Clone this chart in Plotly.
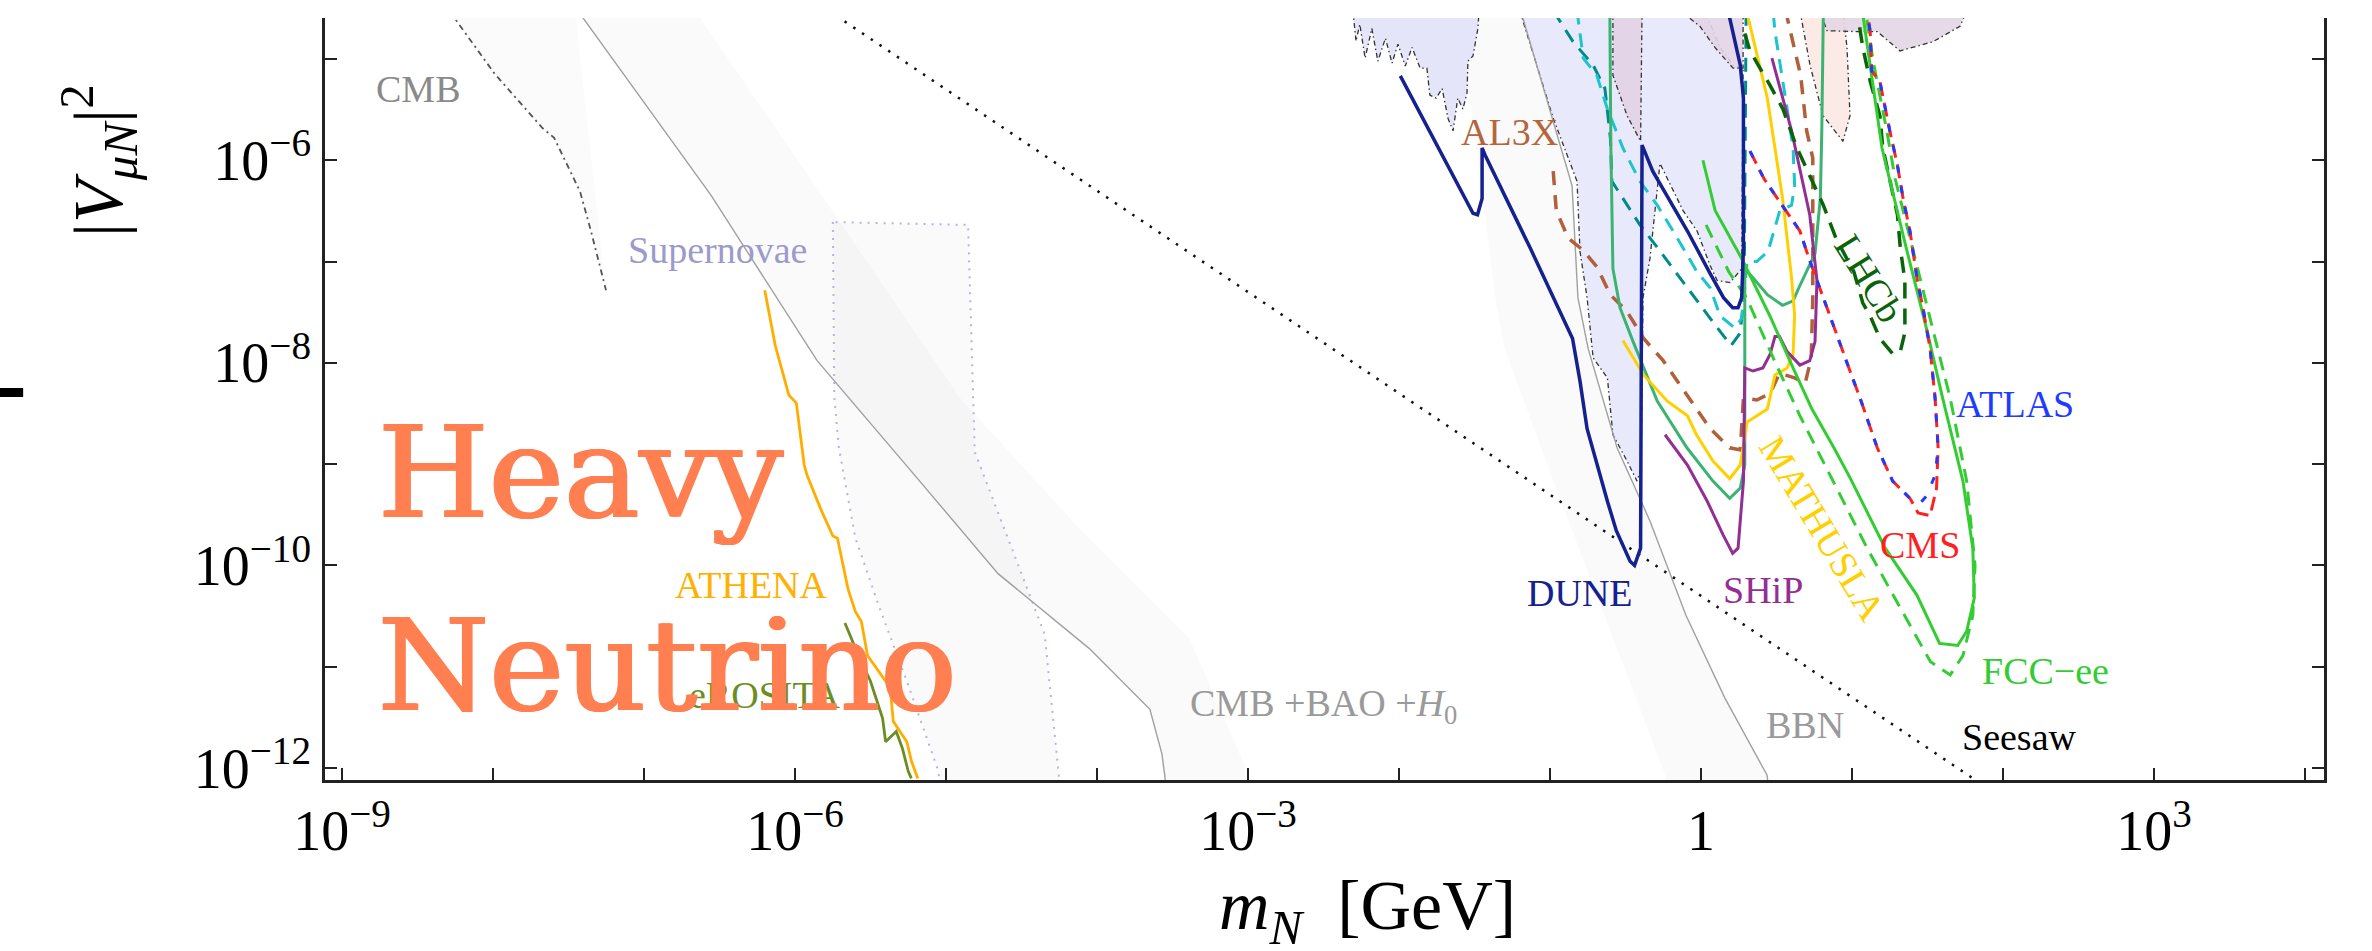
import plotly.graph_objects as go

# ---------------- data (m_N in GeV, |V_muN|^2) ----------------
seesaw_m = [1.0e-7, 1.0e3]
seesaw_v = [5.0e-4, 5.0e-14]

cmb_m = [5.4e-9, 5.7e-9, 1.02e-8, 2.11e-8, 2.54e-8, 3.77e-8, 4.45e-8, 5.6e-8, 4.4e-8, 3.5e-8]
cmb_v = [3.0e-5, 2.4e-5, 7.2e-6, 2.1e-6, 1.66e-6, 4.9e-7, 2.0e-7, 5.2e-8, 1.32e-6, 3.0e-5]
cmb_line_n = 8

bao_line_m = [3.7e-8, 3.9e-8, 2.78e-7, 1.40e-6, 5.6e-6, 2.21e-5, 8.9e-5, 2.24e-4, 2.69e-4, 2.82e-4, 2.86e-4]
bao_line_v = [3.0e-5, 2.6e-5, 4.5e-7, 1.05e-8, 9.3e-10, 8.3e-11, 1.51e-11, 3.8e-12, 1.38e-12, 8.1e-13, 5.0e-13]
bao_edge_m = [1.04e-3, 1.03e-3, 4.1e-4, 7.7e-5, 1.24e-5, 1.76e-6, 2.18e-7]
bao_edge_v = [5.0e-13, 8.1e-13, 1.9e-11, 2.3e-10, 4.5e-9, 3.2e-7, 3.0e-5]

sn_m = [1.78e-6, 1.82e-6, 1.95e-6, 2.51e-6, 3.63e-6, 5.5e-6, 8.9e-6, 9.3e-6, 5.9e-5, 5.6e-5, 4.5e-5, 1.55e-5, 1.40e-5, 1.78e-6]
sn_v = [2.45e-7, 4.5e-9, 1.45e-9, 1.86e-10, 3.8e-11, 7.2e-12, 9.3e-13, 5.0e-13, 5.0e-13, 8.1e-13, 2.1e-11, 1.32e-9, 2.3e-7, 2.45e-7]

bbn_edge_m = [2.35e-2, 2.95e-2, 4.33e-2, 5.0e-2, 0.105, 0.228, 0.578, 0.60]
bbn_edge_v = [3.0e-5, 4.1e-6, 4.4e-8, 1.38e-8, 6.8e-10, 3.2e-11, 8.5e-13, 5.0e-13]
bbn_line_m = [6.4e-2, 0.140, 0.153, 0.179, 0.278, 0.459, 0.796, 1.44, 2.74, 2.85]
bbn_line_v = [3.0e-5, 5.6e-7, 4.4e-8, 1.38e-8, 1.45e-9, 2.75e-10, 3.2e-11, 4.9e-12, 8.5e-13, 5.0e-13]

reg1_m = [4.95e-3, 5.19e-3, 5.50e-3, 5.96e-3, 6.61e-3, 7.24e-3, 8.13e-3, 8.99e-3, 9.84e-3, 1.10e-2,
          1.22e-2, 1.38e-2, 1.53e-2, 1.60e-2, 1.76e-2, 1.93e-2, 2.11e-2, 2.28e-2, 2.45e-2, 2.65e-2,
          2.82e-2, 2.86e-2, 3.09e-2, 3.33e-2, 3.39e-2]
reg1_v = [3.0e-5, 1.5e-5, 2.2e-5, 1.02e-5, 2.0e-5, 9.5e-6, 1.6e-5, 9.1e-6, 1.4e-5, 8.5e-6,
          1.3e-5, 8.1e-6, 8.1e-6, 4.4e-6, 4.1e-6, 5.1e-6, 2.6e-6, 1.95e-6, 4.1e-6, 3.2e-6,
          4.6e-6, 9.5e-6, 1.07e-5, 2.0e-5, 3.0e-5]

reg2_m = [0.063, 0.105, 0.151, 0.158, 0.176, 0.193, 0.240, 0.261, 0.324, 0.377, 0.401, 0.413, 0.459,
          0.535, 0.759, 0.942, 1.15, 1.28, 1.56, 1.86, 1.90, 1.63, 1.34, 1.06]
reg2_v = [3.0e-5, 2.6e-6, 6.2e-7, 1.26e-7, 4.4e-8, 1.12e-8, 7.1e-9, 1.95e-9, 1.07e-9, 6.8e-10, 9.1e-10,
          4.4e-8, 1.07e-7, 9.3e-7, 3.2e-7, 2.0e-7, 9.1e-8, 6.5e-8, 6.2e-8, 8.5e-8, 8.1e-6, 8.7e-6, 1.29e-5, 3.0e-5]

reg3_m = [0.261, 0.261, 0.324, 0.398, 0.407]
reg3_v = [3.0e-5, 6.9e-6, 2.75e-6, 1.54e-6, 3.0e-5]
reg3b_m = [0.726, 0.984, 1.24, 1.63, 1.90, 1.90]
reg3b_v = [3.0e-5, 2.1e-5, 1.29e-5, 8.1e-6, 8.1e-6, 3.0e-5]
reg4_m = [4.52, 5.27, 6.43, 8.71, 9.70, 9.27, 8.71]
reg4_v = [3.0e-5, 8.7e-6, 2.75e-6, 1.54e-6, 2.75e-6, 1.29e-5, 3.0e-5]
reg5_m = [6.14, 6.82, 10.8, 14.7, 20.8, 34.4, 51.9, 57.8]
reg5_v = [3.0e-5, 1.9e-5, 1.86e-5, 1.86e-5, 1.2e-5, 1.48e-5, 2.1e-5, 3.0e-5]

athena_m = [6.3e-7, 7.4e-7, 9.1e-7, 1.02e-6, 1.15e-6, 1.20e-6, 1.48e-6, 1.78e-6, 1.91e-6, 2.24e-6,
            2.51e-6, 2.75e-6, 3.02e-6, 4.27e-6, 4.47e-6, 5.5e-6, 5.9e-6, 6.5e-6]
athena_v = [5.2e-8, 1.48e-8, 4.8e-9, 4.0e-9, 9.8e-10, 7.8e-10, 3.6e-10, 1.95e-10, 1.86e-10, 5.9e-11,
            3.5e-11, 2.8e-11, 1.29e-11, 6.2e-12, 2.9e-12, 1.82e-12, 1.17e-12, 7.9e-13]

erosita_m = [2.14e-6, 2.63e-6, 3.16e-6, 3.80e-6, 3.98e-6, 4.68e-6, 5.13e-6, 5.62e-6, 5.89e-6]
erosita_v = [2.7e-11, 1.29e-11, 7.2e-12, 3.1e-12, 1.82e-12, 2.3e-12, 1.58e-12, 9.3e-13, 7.9e-13]

dune_m = [1.02e-2, 3.09e-2, 3.31e-2, 3.55e-2, 3.55e-2, 3.72e-2, 7.41e-2, 0.105, 0.141, 0.158, 0.176,
          0.240, 0.275, 0.339, 0.363, 0.398, 0.407, 0.479, 0.813, 1.15, 1.41, 1.62, 1.76, 1.86, 1.91,
          1.91, 1.82, 1.51]
dune_v = [6.8e-6, 3.0e-7, 2.9e-7, 4.2e-7, 1.32e-6, 1.12e-6, 1.35e-7, 4.4e-8, 1.74e-8, 6.6e-9, 2.24e-9,
          4.3e-10, 2.2e-10, 1.1e-10, 1.0e-10, 1.48e-10, 1.41e-6, 7.8e-7, 2.0e-7, 7.6e-8, 4.4e-8, 3.5e-8,
          3.5e-8, 4.4e-8, 1.35e-7, 4.1e-6, 8.7e-6, 3.0e-5]

al3x_m = [0.105, 0.110, 0.132, 0.166, 0.204, 0.251, 0.324, 0.417, 0.562, 0.813, 1.15, 1.55, 1.82, 1.91,
          2.34, 2.88, 3.31, 4.17, 4.90, 5.37, 5.50, 5.50, 5.50, 5.01, 4.57, 3.63]
al3x_v = [7.8e-7, 3.2e-7, 1.7e-7, 1.29e-7, 8.9e-8, 4.7e-8, 3.2e-8, 1.74e-8, 1.05e-8, 4.8e-9, 2.24e-9,
          1.45e-9, 1.38e-9, 4.5e-9, 4.3e-9, 5.0e-9, 7.9e-9, 7.1e-9, 6.3e-9, 1.12e-8, 4.4e-8, 2.0e-7,
          1.05e-6, 1.95e-6, 6.9e-6, 3.0e-5]

mathusla_m = [0.304, 0.417, 0.596, 0.813, 0.933, 1.20, 1.55, 1.82, 2.02, 2.75, 3.09, 3.72, 4.07, 4.17,
              3.98, 3.47, 2.75, 2.0]
mathusla_v = [1.66e-8, 7.6e-9, 4.2e-9, 3.0e-9, 1.95e-9, 1.07e-9, 7.2e-10, 9.8e-10, 2.6e-9, 3.5e-9,
              7.6e-9, 8.9e-9, 1.2e-8, 2.95e-8, 6.9e-8, 4.2e-7, 4.1e-6, 3.0e-5]

ship_m = [0.578, 0.813, 1.10, 1.40, 1.62, 1.76, 1.91, 1.95, 2.21, 2.57, 2.86, 3.09, 3.31, 3.72, 4.52,
          5.25, 5.69, 5.86, 5.25, 3.98, 2.95]
ship_v = [1.95e-9, 9.8e-10, 4.3e-10, 2.0e-10, 1.32e-10, 1.48e-10, 6.8e-10, 8.9e-9, 8.3e-9, 8.9e-9,
          1.2e-8, 1.82e-8, 1.82e-8, 1.29e-8, 9.5e-9, 1.05e-8, 1.62e-8, 6.5e-8, 2.9e-7, 1.95e-6, 1.02e-5]

seagreen_m = [0.249, 0.253, 0.261, 0.291, 0.355, 0.513, 0.807, 1.20, 1.55, 1.82, 1.95, 1.95, 1.95, 2.21,
              2.75, 3.47, 4.07, 4.52, 5.13, 5.69, 6.17, 6.31, 6.46]
seagreen_v = [3.0e-5, 1.32e-6, 8.5e-8, 3.5e-8, 1.62e-8, 4.2e-9, 1.45e-9, 6.8e-10, 4.6e-10, 5.8e-10,
              9.8e-10, 7.1e-9, 8.5e-8, 6.9e-8, 4.7e-8, 3.7e-8, 4.1e-8, 5.8e-8, 8.5e-8, 1.2e-7, 4.2e-7,
              1.95e-6, 3.0e-5]

teal_m = [0.105, 0.142, 0.193, 0.231, 0.251, 0.257, 0.304, 0.394, 0.537, 0.807, 1.15, 1.58, 1.81, 1.93,
          1.95, 1.99, 1.99]
teal_v = [3.0e-5, 1.48e-5, 8.7e-6, 5.1e-6, 1.66e-6, 6.2e-7, 4.2e-7, 2.3e-7, 1.26e-7, 5.5e-8, 2.75e-8,
          1.48e-8, 1.95e-8, 4.4e-8, 4.2e-7, 4.1e-6, 3.0e-5]

cyan_m = [0.151, 0.166, 0.204, 0.240, 0.304, 0.394, 0.513, 0.653, 0.942, 1.15, 1.34, 1.68, 1.86, 2.02,
          2.34, 2.78, 3.33, 3.98, 4.17, 4.07, 3.72, 3.33, 3.09, 3.0]
cyan_v = [3.0e-5, 1.02e-5, 6.9e-6, 3.2e-6, 1.32e-6, 6.2e-7, 3.6e-7, 2.0e-7, 7.9e-8, 5.5e-8, 2.9e-8,
          2.2e-8, 2.75e-8, 1.0e-7, 1.0e-7, 1.26e-7, 3.2e-7, 3.6e-7, 5.6e-7, 1.32e-6, 3.2e-6, 8.7e-6,
          1.86e-5, 3.0e-5]

lhcb_m = [1.95, 2.11, 2.86, 3.49, 4.32, 5.25, 6.46, 7.83, 10.3, 11.8, 13.4, 15.3, 18.6, 20.9, 22.4, 22.4,
          20.9, 20.0, 16.0, 15.3, 13.2, 11.8, 10.8]
lhcb_v = [1.78e-5, 1.2e-5, 5.5e-6, 3.2e-6, 1.32e-6, 7.1e-7, 3.6e-7, 1.7e-7, 7.9e-8, 3.9e-8, 2.75e-8,
          1.74e-8, 1.23e-8, 1.29e-8, 2.0e-8, 6.5e-8, 1.35e-7, 2.9e-7, 1.32e-6, 2.75e-6, 6.0e-6, 1.29e-5, 3.0e-5]

atlas_m = [2.11, 2.61, 3.44, 4.52, 5.19, 6.31, 7.83, 9.70, 11.3, 14.7, 18.6, 24.2, 28.2, 31.4, 35.5, 37.2,
           35.5, 32.9, 29.5, 26.9, 24.2, 21.8, 20.0, 17.8, 16.0, 15.3, 13.5, 13.2, 12.6]
atlas_v = [1.23e-6, 6.6e-7, 3.6e-7, 2.0e-7, 1.07e-7, 4.9e-8, 2.0e-8, 8.3e-9, 4.5e-9, 1.45e-9, 6.8e-10,
           4.6e-10, 4.1e-10, 4.9e-10, 7.8e-10, 1.45e-9, 4.5e-9, 1.38e-8, 3.5e-8, 6.9e-8, 2.0e-7, 4.2e-7,
           8.9e-7, 1.95e-6, 4.1e-6, 6.0e-6, 7.6e-6, 1.86e-5, 3.0e-5]

cms_m = [2.11, 2.61, 3.44, 4.52, 5.19, 6.31, 7.83, 9.70, 11.3, 14.7, 18.6, 24.2, 27.4, 32.9, 36.3, 37.2,
         35.5, 32.9, 29.5, 26.9, 24.2, 21.8, 20.0, 17.8, 16.0, 15.3, 13.5, 13.2, 12.6]
cms_v = [1.23e-6, 6.6e-7, 3.6e-7, 2.0e-7, 1.07e-7, 4.9e-8, 2.0e-8, 8.3e-9, 4.5e-9, 1.45e-9, 6.8e-10,
         4.6e-10, 3.3e-10, 3.1e-10, 5.8e-10, 1.45e-9, 4.5e-9, 1.38e-8, 3.5e-8, 6.9e-8, 2.0e-7, 4.2e-7,
         8.9e-7, 1.95e-6, 4.1e-6, 6.0e-6, 7.6e-6, 1.86e-5, 3.0e-5]

fcc_m = [1.03, 1.24, 1.86, 2.86, 4.07, 5.43, 7.59, 9.77, 16.6, 26.9, 38.0, 50.1, 57.5, 64.6, 63.1, 54.3,
         39.8, 31.6, 22.9, 15.8, 11.7]
fcc_v = [1.0e-6, 3.2e-7, 1.07e-7, 2.9e-8, 8.9e-9, 3.5e-9, 1.45e-9, 7.2e-10, 1.48e-10, 5.1e-11, 1.7e-11,
         1.62e-11, 2.24e-11, 4.8e-11, 1.48e-10, 6.8e-10, 4.5e-9, 2.0e-8, 1.35e-7, 1.32e-6, 3.0e-5]

fccd_m = [1.08, 1.53, 2.0, 3.16, 4.52, 7.48, 12.6, 20.9, 33.1, 44.7, 54.3, 63.1, 65.3, 57.5, 44.7, 34.7,
          25.1, 19.3, 17.0, 13.8, 12.3]
fccd_v = [2.3e-7, 7.9e-8, 4.4e-8, 9.5e-9, 3.0e-9, 6.8e-10, 1.48e-10, 3.8e-11, 1.12e-11, 8.3e-12, 1.29e-11,
          3.2e-11, 1.0e-10, 6.8e-10, 4.5e-9, 2.0e-8, 1.35e-7, 6.6e-7, 1.95e-6, 9.5e-6, 3.0e-5]

x_tickvals = [1e-9, 1e-6, 1e-3, 1, 1e3]
x_ticktext = ["10<sup>−9</sup>", "10<sup>−6</sup>", "10<sup>−3</sup>", "1", "10<sup>3</sup>"]
x_minorvals = [1e-8, 1e-7, 1e-5, 1e-4, 1e-2, 1e-1, 10, 100, 1e4]
y_tickvals = [1e-12, 1e-10, 1e-8, 1e-6]
y_ticktext = ["10<sup>−12</sup>", "10<sup>−10</sup>", "10<sup>−8</sup>", "10<sup>−6</sup>"]
y_minorvals = [1e-11, 1e-9, 1e-7, 1e-5]

# label text, colour, paper position, rotation
labels = [
    ("CMB", "#8a8a8a", 0.0465, 0.9068, 0),
    ("Supernovae", "#9b9bcb", 0.1961, 0.6955, 0),
    ("ATHENA", "#ffb000", 0.2136, 0.2559, 0),
    ("eROSITA", "#6b8e23", 0.2201, 0.1115, 0),
    ("CMB +BAO +<i>H</i><sub>0</sub>", "#9a9a9a", 0.4993, 0.0971, 0),
    ("BBN", "#9a9a9a", 0.7404, 0.0722, 0),
    ("DUNE", "#14218f", 0.6278, 0.2454, 0),
    ("SHiP", "#932f93", 0.7194, 0.2493, 0),
    ("MATHUSLA", "#ffd000", 0.7489, 0.3307, 59),
    ("CMS", "#ff2020", 0.7979, 0.3084, 0),
    ("ATLAS", "#1e3cff", 0.8454, 0.4934, 0),
    ("FCC−ee", "#33cc33", 0.8609, 0.1430, 0),
    ("Seesaw", "#000000", 0.8479, 0.0564, 0),
    ("LHCb", "#0a640a", 0.7724, 0.6588, 58),
    ("AL3X", "#b5653a", 0.5923, 0.8504, 0),
]

fig = go.Figure()


def poly(m, v, fill, line_color=None, dash=None, width=0):
    fig.add_trace(go.Scatter(
        x=m, y=v, mode="lines", fill="toself", fillcolor=fill,
        line=dict(color=line_color or "rgba(0,0,0,0)", width=width, dash=dash),
        hoverinfo="skip", showlegend=False))


def line(m, v, color, width=3, dash=None):
    fig.add_trace(go.Scatter(
        x=m, y=v, mode="lines", line=dict(color=color, width=width, dash=dash),
        hoverinfo="skip", showlegend=False))


# light grey cosmology / astrophysics bands
poly(cmb_m, cmb_v, "rgba(0,0,0,0.015)")
poly(bao_line_m + bao_edge_m, bao_line_v + bao_edge_v, "rgba(0,0,0,0.018)")
poly(sn_m, sn_v, "rgba(0,0,0,0.018)", "#b4b4dc", "2px,6px", 2)
poly(bbn_edge_m + bbn_line_m[::-1], bbn_edge_v + bbn_line_v[::-1], "rgba(0,0,0,0.02)")

# existing constraints (coloured regions)
bd = "5px,3px,1.5px,3px"
poly(reg1_m, reg1_v, "rgba(225,225,248,0.85)", "#333333", bd, 1.3)
poly(reg2_m, reg2_v, "rgba(228,230,252,0.85)", "#333333", bd, 1.3)
poly(reg3_m, reg3_v, "rgba(226,210,228,0.9)", "#333333", bd, 1.3)
poly(reg3b_m, reg3b_v, "rgba(226,212,230,0.9)", "#333333", bd, 1.3)
poly(reg4_m, reg4_v, "rgba(252,232,228,0.9)", "#333333", bd, 1.3)
poly(reg5_m, reg5_v, "rgba(228,214,230,0.9)", "#333333", bd, 1.3)

# grey boundary lines
line(cmb_m[:cmb_line_n], cmb_v[:cmb_line_n], "#555555", 1.8, "6px,4px,2px,4px")
line(bao_line_m, bao_line_v, "#a0a0a0", 1.4)
line(bbn_line_m, bbn_line_v, "#a0a0a0", 1.4)
line(seesaw_m, seesaw_v, "#111111", 2.5, "2.5px,8px")

# experiments
line(athena_m, athena_v, "#ffae00", 2.8)
line(erosita_m, erosita_v, "#6b8e23", 2.8)
line(teal_m, teal_v, "#008b8b", 3, "14px,9px")
line(cyan_m, cyan_v, "#1cc4cc", 3, "14px,9px")
line(al3x_m, al3x_v, "#b0603a", 3.5, "14px,10px")
line(seagreen_m, seagreen_v, "#3cb371", 3)
line(mathusla_m, mathusla_v, "#ffd000", 3)
line(ship_m, ship_v, "#932f93", 3)
line(lhcb_m, lhcb_v, "#0a640a", 3.5, "16px,10px")
line(fccd_m, fccd_v, "#33cc33", 3, "14px,9px")
line(fcc_m, fcc_v, "#33cc33", 3)
line(cms_m, cms_v, "#ff2020", 3, "14px,7px")
line(atlas_m, atlas_v, "#1e3cff", 3, "7px,14px")
line(dune_m, dune_v, "#14218f", 3.5)

serif = "Liberation Serif"
big_font = dict(family="DejaVu Serif", size=127, color="#FF7F50",
                shadow="1.4px 0px 0px #FF7F50, -1.4px 0px 0px #FF7F50")
annotations = []
for txt, col, px, py, ang in labels:
    annotations.append(dict(text=txt, x=px, y=py, xref="paper", yref="paper", showarrow=False,
                            xanchor="center", yanchor="middle", textangle=ang,
                            font=dict(family=serif, size=38, color=col)))

annotations += [
    dict(text="Heavy", x=0.0255, y=0.4029, xref="paper", yref="paper", showarrow=False,
         xanchor="left", yanchor="middle", font=big_font),
    dict(text="Neutrino", x=0.0255, y=0.1496, xref="paper", yref="paper", showarrow=False,
         xanchor="left", yanchor="middle", font=big_font),
    dict(text="|<i>V</i><sub><i>μN</i></sub>|<sup>2</sup>", x=-0.1136, y=0.8136, xref="paper",
         yref="paper", showarrow=False, textangle=-90, xanchor="center", yanchor="middle",
         font=dict(family=serif, size=70, color="#000000")),
    dict(text="<i>m</i><sub><i>N</i></sub>  [GeV]", x=0.5213, y=-0.172, xref="paper", yref="paper",
         showarrow=False, xanchor="center", yanchor="middle",
         font=dict(family=serif, size=70, color="#000000")),
]

tick_common = dict(ticks="inside", ticklen=12, tickwidth=1.5, tickcolor="#222222")

fig.update_layout(
    width=2372, height=951,
    margin=dict(l=325, r=48, t=18, b=171),
    paper_bgcolor="white", plot_bgcolor="white",
    showlegend=False,
    annotations=annotations,
    shapes=[dict(type="rect", xref="paper", yref="paper", x0=-0.1626, x1=-0.151, y0=0.5026, y1=0.5144,
                 fillcolor="black", line=dict(width=0))],
    xaxis=dict(type="log", range=[-9.113, 4.126], showgrid=False, zeroline=False,
               showline=True, linecolor="#222222", linewidth=3, mirror=False,
               tickmode="array", tickvals=x_tickvals, ticktext=x_ticktext,
               minor=dict(tickmode="array", tickvals=x_minorvals, showgrid=False, **tick_common),
               tickfont=dict(family=serif, size=56, color="black"), **tick_common),
    yaxis=dict(type="log", range=[-12.118, -4.596], showgrid=False, zeroline=False,
               showline=True, linecolor="#222222", linewidth=2.5, mirror="ticks",
               tickmode="array", tickvals=y_tickvals, ticktext=y_ticktext,
               minor=dict(tickmode="array", tickvals=y_minorvals, showgrid=False, **tick_common),
               tickfont=dict(family=serif, size=56, color="black"), **tick_common),
)

fig.write_html("out.html")
